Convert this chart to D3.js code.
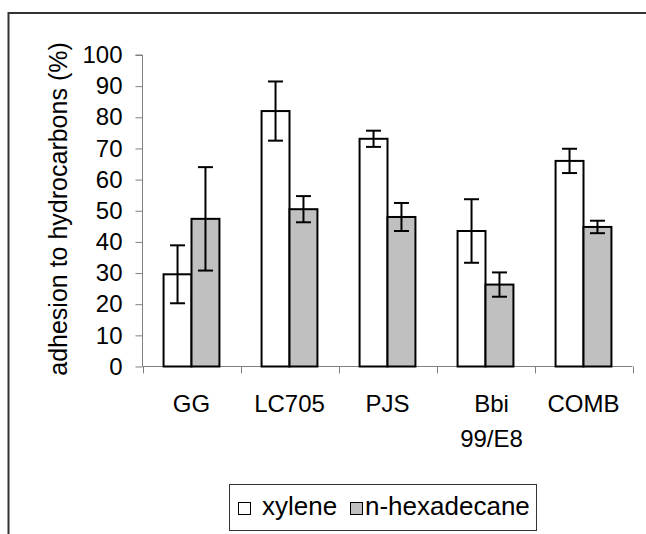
<!DOCTYPE html>
<html>
<head>
<meta charset="utf-8">
<script src="https://cdn.jsdelivr.net/npm/d3@7"></script>
<style>
  html, body { margin: 0; padding: 0; background: #fff; }
  svg { display: block; font-family: "Liberation Sans", Arial, sans-serif; }
</style>
</head>
<body>
<svg id="chart" width="646" height="534"></svg>
<script>
// Strains and measured adhesion (%), with error bar half-widths
const strains = ["GG", "LC705", "PJS", "Bbi 99/E8", "COMB"];
const strainLines = [["GG"], ["LC705"], ["PJS"], ["Bbi", "99/E8"], ["COMB"]];
const seriesNames = ["xylene", "n-hexadecane"];
const xyleneValues = [29.6, 82.0, 73.1, 43.5, 66.0];
const xyleneErrors = [9.3, 9.5, 2.6, 10.2, 3.9];
const hexadecaneValues = [47.4, 50.5, 48.0, 26.3, 44.8];
const hexadecaneErrors = [16.6, 4.2, 4.5, 3.9, 2.0];
const yTicks = [0, 10, 20, 30, 40, 50, 60, 70, 80, 90, 100];
const yTitle = "adhesion to hydrocarbons (%)";

const seriesFill = { "xylene": "#ffffff", "n-hexadecane": "#c0c0c0" };

const rows = strains.map((s, i) => ({
  strain: s,
  lines: strainLines[i],
  bars: [
    { series: "xylene", value: xyleneValues[i], err: xyleneErrors[i] },
    { series: "n-hexadecane", value: hexadecaneValues[i], err: hexadecaneErrors[i] }
  ]
}));

const svg = d3.select("#chart");

// outer chart-area frame
svg.append("rect")
  .attr("x", 8.5).attr("y", 13)
  .attr("width", 700).attr("height", 600)
  .attr("fill", "none").attr("stroke", "#333").attr("stroke-width", 2);

const plot = { left: 142.5, right: 632.5, top: 55, bottom: 366.5 };

const x0 = d3.scaleBand()
  .domain(strains)
  .range([plot.left, plot.right])
  .paddingInner(0.43)
  .paddingOuter(0.215);

const x1 = d3.scaleBand()
  .domain(seriesNames)
  .range([0, x0.bandwidth()]);

const y = d3.scaleLinear().domain([0, 100]).range([plot.bottom, plot.top]);

// y axis
const yAxis = svg.append("g")
  .attr("transform", `translate(${plot.left},0)`)
  .call(d3.axisLeft(y).tickValues(yTicks).tickSize(7).tickPadding(13));
yAxis.select(".domain").attr("stroke", "#808080").attr("d", `M-7,${y(100)}H0V${y(0)}`);
yAxis.selectAll(".tick line").attr("stroke", "#808080");
yAxis.selectAll(".tick text")
  .attr("font-size", 24).attr("fill", "#000")
  .attr("font-family", "Liberation Sans, Arial, sans-serif");

// x axis: ticks sit on category boundaries
const bounds = d3.range(strains.length + 1).map(i => plot.left + i * x0.step());
const xAxis = svg.append("g");
xAxis.append("line")
  .attr("x1", plot.left).attr("x2", plot.right)
  .attr("y1", plot.bottom).attr("y2", plot.bottom)
  .attr("stroke", "#808080");
xAxis.selectAll("line.tk").data(bounds).join("line")
  .attr("class", "tk")
  .attr("x1", d => Math.round(d) + 0.5).attr("x2", d => Math.round(d) + 0.5)
  .attr("y1", plot.bottom).attr("y2", plot.bottom + 7)
  .attr("stroke", "#808080");

// category labels (wrapped labels sit a little right of centre)
const labels = svg.append("g").selectAll("text").data(rows).join("text")
  .attr("x", d => x0(d.strain) + x0.bandwidth() / 2 + (d.lines.length > 1 ? 6 : 0))
  .attr("y", 412)
  .attr("text-anchor", "middle")
  .attr("font-size", 24)
  .attr("fill", "#000");
labels.selectAll("tspan").data(d => d.lines).join("tspan")
  .attr("x", function () { return d3.select(this.parentNode).attr("x"); })
  .attr("dy", (d, i) => i === 0 ? 0 : 35)
  .text(d => d);

// bars
const groups = svg.append("g").selectAll("g").data(rows).join("g")
  .attr("transform", d => `translate(${x0(d.strain)},0)`);

groups.selectAll("rect").data(d => d.bars).join("rect")
  .attr("x", d => x1(d.series))
  .attr("y", d => y(d.value))
  .attr("width", x1.bandwidth())
  .attr("height", d => y(0) - y(d.value))
  .attr("fill", d => seriesFill[d.series])
  .attr("stroke", "#000")
  .attr("stroke-width", 2);

// error bars
const capHalf = 7.5;
const eb = groups.selectAll("g.err").data(d => d.bars).join("g")
  .attr("class", "err")
  .attr("stroke", "#000").attr("stroke-width", 2);
eb.append("line")
  .attr("x1", d => x1(d.series) + x1.bandwidth() / 2)
  .attr("x2", d => x1(d.series) + x1.bandwidth() / 2)
  .attr("y1", d => y(d.value + d.err))
  .attr("y2", d => y(d.value - d.err));
eb.append("line")
  .attr("x1", d => x1(d.series) + x1.bandwidth() / 2 - capHalf)
  .attr("x2", d => x1(d.series) + x1.bandwidth() / 2 + capHalf)
  .attr("y1", d => y(d.value + d.err))
  .attr("y2", d => y(d.value + d.err));
eb.append("line")
  .attr("x1", d => x1(d.series) + x1.bandwidth() / 2 - capHalf)
  .attr("x2", d => x1(d.series) + x1.bandwidth() / 2 + capHalf)
  .attr("y1", d => y(d.value - d.err))
  .attr("y2", d => y(d.value - d.err));

// y axis title
svg.append("text")
  .attr("transform", `translate(67,209) rotate(-90)`)
  .attr("text-anchor", "middle")
  .attr("font-size", 25)
  .attr("fill", "#000")
  .text(yTitle);

// legend
const legend = svg.append("g");
legend.append("rect")
  .attr("x", 229.5).attr("y", 484.5)
  .attr("width", 307).attr("height", 46)
  .attr("fill", "#fff").attr("stroke", "#333").attr("stroke-width", 1);
const legendItems = [
  { name: seriesNames[0], sx: 238, tx: 262 },
  { name: seriesNames[1], sx: 350, tx: 365 }
];
legendItems.forEach(it => {
  legend.append("rect")
    .attr("x", it.sx + 0.5).attr("y", 502.5)
    .attr("width", 12).attr("height", 12)
    .attr("fill", seriesFill[it.name]).attr("stroke", "#000").attr("stroke-width", 1);
  legend.append("text")
    .attr("x", it.tx).attr("y", 515)
    .attr("font-size", 26).attr("fill", "#000")
    .text(it.name);
});
</script>
</body>
</html>
